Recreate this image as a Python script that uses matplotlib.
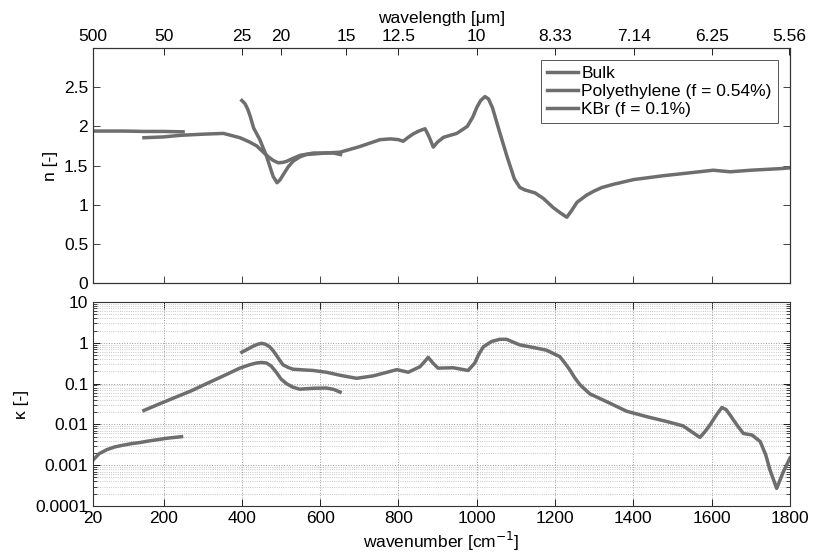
import matplotlib
matplotlib.use("Agg")
import matplotlib.pyplot as plt

plt.rcParams["font.family"] = ["Liberation Sans", "DejaVu Sans"]
plt.rcParams["font.size"] = 12.5

# refractive index n
n_bulk_x = [20, 60, 100, 150, 200, 250]
n_bulk = [1.94, 1.94, 1.94, 1.935, 1.935, 1.93]

n_pe_x = [150, 200, 242, 300, 353, 395, 420, 438, 455, 468, 480, 493, 505, 515, 530, 549, 583, 634, 652]
n_pe = [1.855, 1.865, 1.885, 1.90, 1.91, 1.855, 1.80, 1.75, 1.67, 1.61, 1.565, 1.535, 1.54, 1.555, 1.59,
        1.63, 1.66, 1.66, 1.64]

n_kbr_x = [400, 408, 415, 422, 430, 446, 463, 480, 490, 498, 506, 518, 531, 548, 565, 616, 651,
           700, 753, 780, 800, 812, 825, 838, 852, 868, 878, 889, 900, 915, 949, 976, 990, 1000,
           1010, 1021, 1030, 1040, 1057, 1077, 1096, 1110, 1122, 1149, 1170, 1196, 1215, 1230,
           1243, 1256, 1280, 1298, 1320, 1349, 1400, 1477, 1550, 1604, 1647, 1700, 1774, 1800]
n_kbr = [2.33, 2.29, 2.22, 2.12, 1.98, 1.83, 1.62, 1.36, 1.28, 1.32, 1.385, 1.48, 1.555, 1.61,
         1.64, 1.66, 1.67, 1.74, 1.83, 1.84, 1.83, 1.81, 1.86, 1.905, 1.94, 1.97, 1.87, 1.735,
         1.80, 1.86, 1.91, 2.0, 2.12, 2.24, 2.33, 2.38, 2.35, 2.24, 1.95, 1.62, 1.33, 1.22, 1.19,
         1.15, 1.08, 0.96, 0.89, 0.84, 0.93, 1.03, 1.12, 1.17, 1.22, 1.26, 1.32, 1.37, 1.41,
         1.44, 1.42, 1.44, 1.46, 1.47]

# extinction coefficient k
k_bulk_x = [20, 35, 55, 75, 97, 120, 140, 160, 183, 210, 246]
k_bulk = [0.00134, 0.0019, 0.0024, 0.0028, 0.0031, 0.0034, 0.0036, 0.0039, 0.0042, 0.0046, 0.0050]

k_pe_x = [150, 190, 225, 270, 310, 350, 395, 420, 437, 450, 463, 475, 488, 500, 514, 530, 548,
          582, 616, 635, 651]
k_pe = [0.022, 0.032, 0.044, 0.066, 0.10, 0.15, 0.24, 0.29, 0.32, 0.33, 0.32, 0.27, 0.19, 0.13,
        0.10, 0.082, 0.073, 0.077, 0.078, 0.072, 0.062]

k_kbr_x = [400, 415, 429, 440, 450, 460, 471, 480, 488, 497, 505, 518, 531, 582, 616, 651, 693,
           736, 796, 825, 855, 866, 876, 888, 901, 940, 978, 995, 1005, 1017, 1038, 1059, 1076,
           1092, 1110, 1144, 1178, 1212, 1225, 1238, 1250, 1264, 1289, 1332, 1383, 1434, 1485,
           1527, 1549, 1570, 1582, 1596, 1612, 1626, 1637, 1647, 1665, 1681, 1703, 1724, 1738,
           1749, 1766, 1783, 1800]
k_kbr = [0.59, 0.70, 0.83, 0.92, 0.97, 0.93, 0.80, 0.64, 0.50, 0.37, 0.29, 0.25, 0.225, 0.21,
         0.19, 0.16, 0.135, 0.155, 0.22, 0.19, 0.26, 0.34, 0.44, 0.32, 0.24, 0.245, 0.21, 0.32,
         0.52, 0.80, 1.08, 1.22, 1.22, 1.05, 0.89, 0.77, 0.66, 0.46, 0.32, 0.215, 0.14, 0.093,
         0.056, 0.036, 0.021, 0.0155, 0.0118, 0.0092, 0.0066, 0.0048, 0.0065, 0.0098, 0.017,
         0.026, 0.023, 0.017, 0.0095, 0.006, 0.0055, 0.0038, 0.0018, 0.00076, 0.00027, 0.00069,
         0.0015]

x_ticks = [20, 200, 400, 600, 800, 1000, 1200, 1400, 1600, 1800]
wl_labels = ["500", "50", "25", "20", "15", "12.5", "10", "8.33", "7.14", "6.25", "5.56"]
wl_pos = [1e4 / float(w) for w in wl_labels]
n_ticks = [0, 0.5, 1, 1.5, 2, 2.5]
k_ticks = [1e-4, 1e-3, 1e-2, 1e-1, 1, 10]
k_labels = ["0.0001", "0.001", "0.01", "0.1", "1", "10"]

line_color = "#6e6e6e"
lw = 2.5

fig = plt.figure(figsize=(8.14, 5.59), dpi=100)
ax1 = fig.add_axes([0.1143, 0.4937, 0.8562, 0.4204])
ax2 = fig.add_axes([0.1143, 0.0948, 0.8562, 0.3649])

ax1.plot(n_bulk_x, n_bulk, color=line_color, lw=lw, label="Bulk")
ax1.plot(n_pe_x, n_pe, color=line_color, lw=lw, label="Polyethylene (f = 0.54%)")
ax1.plot(n_kbr_x, n_kbr, color=line_color, lw=lw, label="KBr (f = 0.1%)")
ax1.set_xlim(20, 1800)
ax1.set_ylim(0, 3)
ax1.set_yticks(n_ticks)
ax1.set_yticklabels(["0", "0.5", "1", "1.5", "2", "2.5"])
ax1.set_xticks(x_ticks)
ax1.set_xticklabels([])
ax1.tick_params(direction="in", length=5, width=0.6, right=True, top=True, colors="#222222",
                labelcolor="black")
ax1.set_ylabel("n [-]")
leg = ax1.legend(loc="upper right", handlelength=1.8, handletextpad=0.2, labelspacing=0.15,
                 borderaxespad=0.7, fancybox=False, framealpha=1, borderpad=0.35)
leg.get_frame().set_edgecolor("#555555")
leg.get_frame().set_linewidth(0.7)

top = ax1.twiny()
top.set_xlim(20, 1800)
top.set_xticks(wl_pos)
top.set_xticklabels(wl_labels)
top.tick_params(direction="in", length=5, width=0.6, pad=3)
top.set_xlabel("wavelength [μm]", labelpad=4)

ax2.plot(k_bulk_x, k_bulk, color=line_color, lw=lw)
ax2.plot(k_pe_x, k_pe, color=line_color, lw=lw)
ax2.plot(k_kbr_x, k_kbr, color=line_color, lw=lw)
ax2.set_yscale("log")
ax2.set_xlim(20, 1800)
ax2.set_ylim(1e-4, 10)
ax2.set_yticks(k_ticks)
ax2.set_yticklabels(k_labels)
ax2.set_xticks(x_ticks)
ax2.tick_params(direction="in", length=5, width=0.6, right=True, top=True)
ax2.tick_params(which="minor", direction="in", length=3, width=0.5, right=True)
ax2.grid(True, which="major", linestyle=":", color="#9a9a9a", lw=0.7)
ax2.grid(True, which="minor", axis="y", linestyle=":", color="#b5b5b5", lw=0.6)
ax2.set_ylabel("κ [-]")
ax2.set_xlabel("wavenumber [cm$^{-1}$]", labelpad=3)

for ax in (ax1, ax2, top):
    for s in ax.spines.values():
        s.set_linewidth(0.8)
        s.set_color("#333333")

fig.savefig("out.png", dpi=100)
